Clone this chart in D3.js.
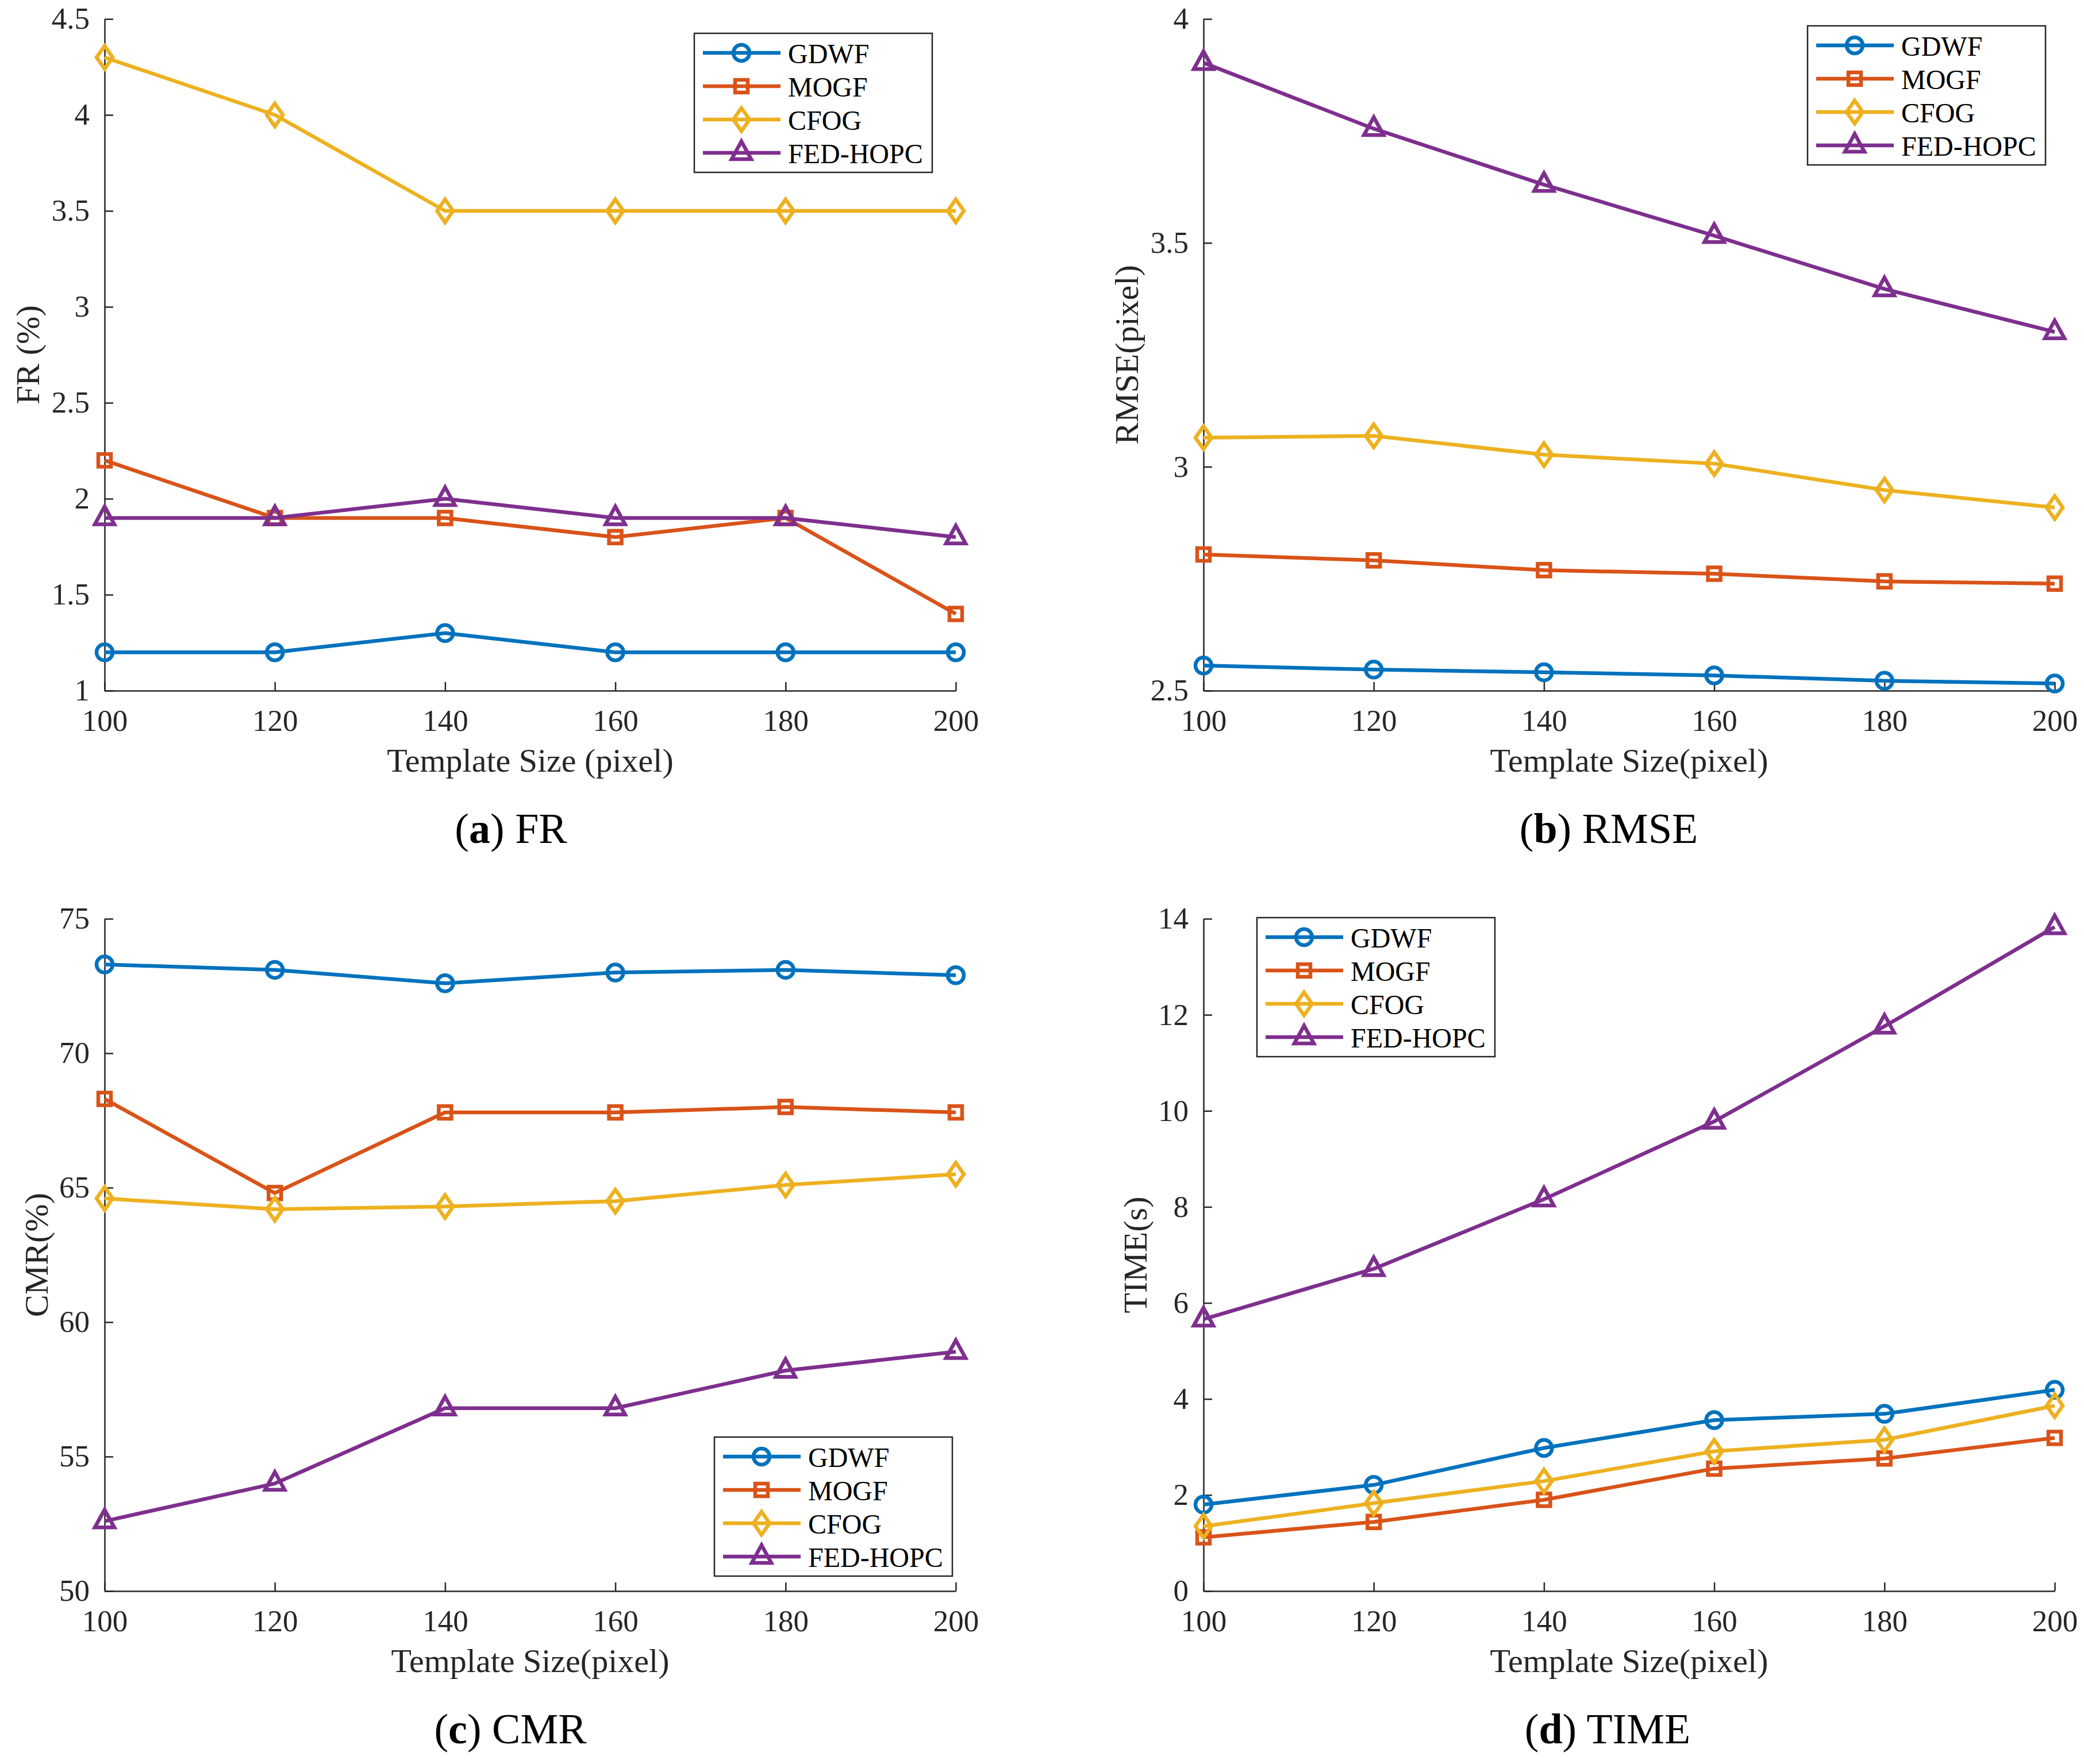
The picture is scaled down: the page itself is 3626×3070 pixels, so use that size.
<!DOCTYPE html>
<html lang="en">
<head>
	<meta charset="utf-8">
	<title>Template size comparison</title>
	<script src="https://d3js.org/d3.v7.min.js"></script>
	<style type="text/css">
		body { margin: 0; background: #fff; }
		.axis path,
		.axis line {
			fill: none;
			stroke: #262626;
			stroke-width: 2.5;
		}
		.axis text {
			font-family: "Liberation Serif", "Times New Roman", serif;
			font-size: 53px;
			fill: #262626;
		}
	</style>
</head>
<body>
<script type="text/javascript">

	//Template sizes (x axis)
	var templateSizes = [100, 120, 140, 160, 180, 200];
	var methods = ["GDWF", "MOGF", "CFOG", "FED-HOPC"];

	//FR (%)
	var frGDWF = [1.2, 1.2, 1.3, 1.2, 1.2, 1.2];
	var frMOGF = [2.2, 1.9, 1.9, 1.8, 1.9, 1.4];
	var frCFOG = [4.3, 4.0, 3.5, 3.5, 3.5, 3.5];
	var frFED = [1.9, 1.9, 2.0, 1.9, 1.9, 1.8];
	var frTicks = [1, 1.5, 2, 2.5, 3, 3.5, 4, 4.5];

	//RMSE (pixel)
	var rmseGDWF = [2.556, 2.547, 2.541, 2.534, 2.522, 2.516];
	var rmseMOGF = [2.804, 2.791, 2.769, 2.761, 2.744, 2.739];
	var rmseCFOG = [3.065, 3.069, 3.027, 3.007, 2.948, 2.909];
	var rmseFED = [3.902, 3.755, 3.630, 3.516, 3.397, 3.301];
	var rmseTicks = [2.5, 3, 3.5, 4];

	//CMR (%)
	var cmrGDWF = [73.3, 73.1, 72.6, 73.0, 73.1, 72.9];
	var cmrMOGF = [68.3, 64.8, 67.8, 67.8, 68.0, 67.8];
	var cmrCFOG = [64.6, 64.2, 64.3, 64.5, 65.1, 65.5];
	var cmrFED = [52.6, 54.0, 56.8, 56.8, 58.2, 58.9];
	var cmrTicks = [50, 55, 60, 65, 70, 75];

	//TIME (s)
	var timeGDWF = [1.80, 2.21, 2.98, 3.56, 3.69, 4.19];
	var timeMOGF = [1.12, 1.44, 1.90, 2.55, 2.76, 3.19];
	var timeCFOG = [1.35, 1.83, 2.29, 2.91, 3.15, 3.86];
	var timeFED = [5.66, 6.71, 8.16, 9.78, 11.76, 13.83];
	var timeTicks = [0, 2, 4, 6, 8, 10, 12, 14];

	//MATLAB default colours
	var colors = ["#0072BD", "#D95319", "#EDB120", "#7E2F8E"];
	var markers = ["circle", "square", "diamond", "triangle"];

	var w = 3626;
	var h = 3070;
	var font = '"Liberation Serif", "Times New Roman", serif';

	var svg = d3.select("body")
		.append("svg")
		.attr("width", w)
		.attr("height", h);

	//Panel layouts
	var panels = [
		{
			left: 182, right: 1663, top: 33, bottom: 1202,
			domain: [1, 4.5], ticks: frTicks,
			series: [frGDWF, frMOGF, frCFOG, frFED],
			ylabel: "FR (%)", ylabelOff: 114,
			xlabel: "Template Size (pixel)",
			capLetter: "a", capText: " FR", capX: 889,
			legend: [1208, 58]
		},
		{
			left: 2094, right: 3575, top: 33, bottom: 1202,
			domain: [2.5, 4], ticks: rmseTicks,
			series: [rmseGDWF, rmseMOGF, rmseCFOG, rmseFED],
			ylabel: "RMSE(pixel)", ylabelOff: 114,
			xlabel: "Template Size(pixel)",
			capLetter: "b", capText: " RMSE", capX: 2799,
			legend: [3145, 45]
		},
		{
			left: 182, right: 1663, top: 1599, bottom: 2769,
			domain: [50, 75], ticks: cmrTicks,
			series: [cmrGDWF, cmrMOGF, cmrCFOG, cmrFED],
			ylabel: "CMR(%)", ylabelOff: 99,
			xlabel: "Template Size(pixel)",
			capLetter: "c", capText: " CMR", capX: 888,
			legend: [1243, 2501]
		},
		{
			left: 2094, right: 3575, top: 1599, bottom: 2769,
			domain: [0, 14], ticks: timeTicks,
			series: [timeGDWF, timeMOGF, timeCFOG, timeFED],
			ylabel: "TIME(s)", ylabelOff: 99,
			xlabel: "Template Size(pixel)",
			capLetter: "d", capText: " TIME", capX: 2797,
			legend: [2187, 1597]
		}
	];

	//Marker outlines, hollow like MATLAB
	function markerPath(type) {
		switch (type) {
			case "circle":
				return "M-14,0A14,14 0 1,0 14,0A14,14 0 1,0 -14,0Z";
			case "square":
				return "M-11,-11L11,-11L11,11L-11,11Z";
			case "diamond":
				return "M0,-20L14,0L0,20L-14,0Z";
			case "triangle":
				return "M0,-20L17,11L-17,11Z";
			default:
				return "";
		}
	}

	panels.forEach(function (p) {
		var xScale = d3.scaleLinear()
			.domain([100, 200])
			.range([p.left, p.right]);

		var yScale = d3.scaleLinear()
			.domain(p.domain)
			.range([p.bottom, p.top]);

		var xAxis = d3.axisBottom(xScale)
			.tickValues(templateSizes)
			.tickSizeInner(-15)
			.tickSizeOuter(0)
			.tickFormat(d3.format("d"));

		var yAxis = d3.axisLeft(yScale)
			.tickValues(p.ticks)
			.tickSizeInner(-15)
			.tickSizeOuter(0)
			.tickPadding(26)
			.tickFormat(function (d) { return String(d); });

		//Create X axis
		var gx = svg.append("g")
			.attr("class", "axis")
			.attr("transform", "translate(0," + p.bottom + ")")
			.call(xAxis)
			.attr("font-family", font)
			.attr("font-size", 53);
		gx.selectAll("text").attr("y", 70).attr("dy", null);

		//Create Y axis
		svg.append("g")
			.attr("class", "axis")
			.attr("transform", "translate(" + p.left + ",0)")
			.call(yAxis)
			.attr("font-family", font)
			.attr("font-size", 53);

		//Lines and markers
		var line = d3.line()
			.x(function (d, i) { return xScale(templateSizes[i]); })
			.y(function (d) { return yScale(d); });

		p.series.forEach(function (vals, k) {
			svg.append("path")
				.datum(vals)
				.attr("d", line)
				.attr("fill", "none")
				.attr("stroke", colors[k])
				.attr("stroke-width", 6.5)
				.attr("stroke-linejoin", "round");

			svg.selectAll(null)
				.data(vals)
				.enter()
				.append("path")
				.attr("d", markerPath(markers[k]))
				.attr("transform", function (d, i) {
					return "translate(" + xScale(templateSizes[i]) + "," + yScale(d) + ")";
				})
				.attr("fill", "none")
				.attr("stroke", colors[k])
				.attr("stroke-width", 6.5);
		});

		//X label
		svg.append("text")
			.attr("x", (p.left + p.right) / 2)
			.attr("y", p.bottom + 141)
			.attr("text-anchor", "middle")
			.attr("font-family", font)
			.attr("font-size", "58px")
			.attr("fill", "#262626")
			.text(p.xlabel);

		//Y label
		svg.append("text")
			.attr("transform", "translate(" + (p.left - p.ylabelOff) + "," + ((p.top + p.bottom) / 2) + ") rotate(-90)")
			.attr("text-anchor", "middle")
			.attr("font-family", font)
			.attr("font-size", "58px")
			.attr("fill", "#262626")
			.text(p.ylabel);

		//Caption
		var cap = svg.append("text")
			.attr("x", p.capX)
			.attr("y", p.bottom + 265)
			.attr("text-anchor", "middle")
			.attr("font-family", font)
			.attr("font-size", "74px")
			.attr("fill", "#000");
		cap.append("tspan").text("(");
		cap.append("tspan").attr("font-weight", "bold").text(p.capLetter);
		cap.append("tspan").text(")" + p.capText);

		//Legend
		var lg = svg.append("g")
			.attr("transform", "translate(" + p.legend[0] + "," + p.legend[1] + ")");

		lg.append("rect")
			.attr("width", 414)
			.attr("height", 242)
			.attr("fill", "#fff")
			.attr("stroke", "#262626")
			.attr("stroke-width", 2.5);

		methods.forEach(function (name, k) {
			var ry = 34 + k * 58;
			lg.append("line")
				.attr("x1", 15).attr("x2", 150)
				.attr("y1", ry).attr("y2", ry)
				.attr("stroke", colors[k])
				.attr("stroke-width", 6.5);
			lg.append("path")
				.attr("d", markerPath(markers[k]))
				.attr("transform", "translate(82," + ry + ")")
				.attr("fill", "none")
				.attr("stroke", colors[k])
				.attr("stroke-width", 6.5);
			lg.append("text")
				.attr("x", 163)
				.attr("y", ry + 18)
				.attr("font-family", font)
				.attr("font-size", "48px")
				.attr("fill", "#000")
				.text(name);
		});
	});

</script>
</body>
</html>
